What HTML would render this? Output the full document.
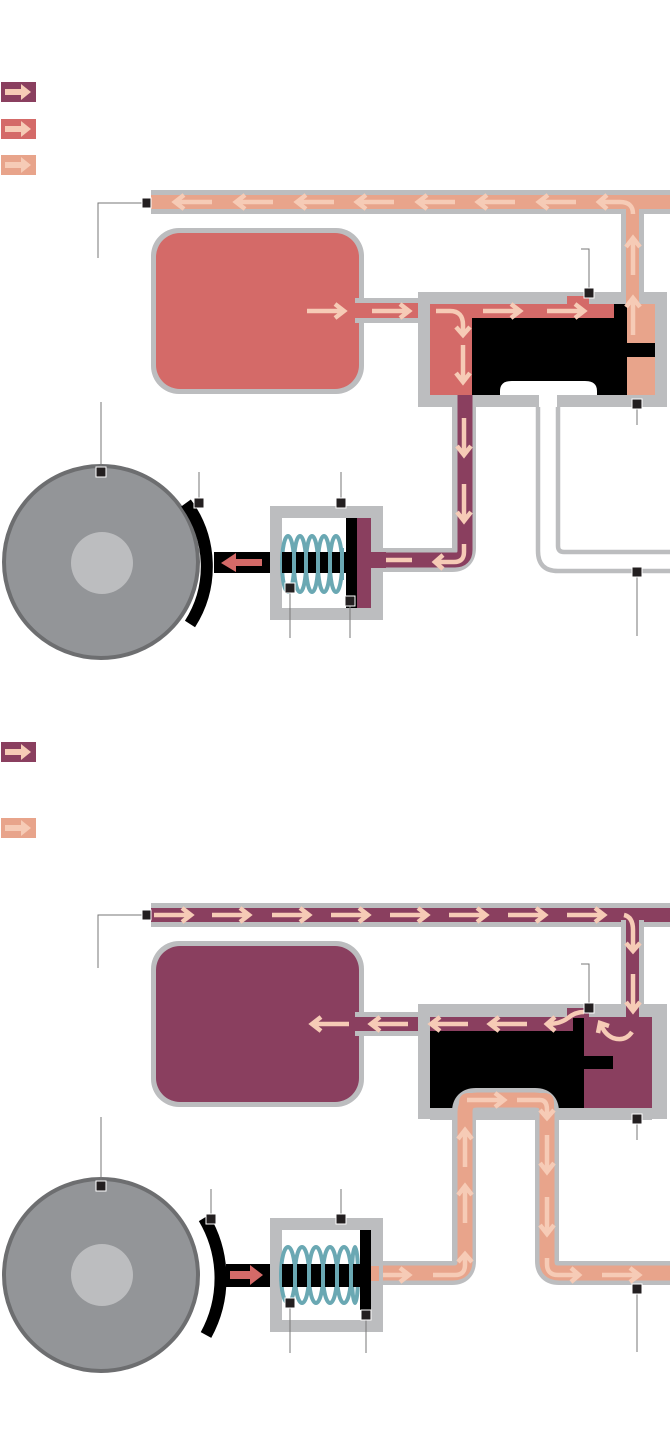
<!DOCTYPE html>
<html><head><meta charset="utf-8"><style>
html,body{margin:0;padding:0;background:#fff;}
svg{display:block;}
</style></head><body>
<svg width="670" height="1436" viewBox="0 0 670 1436" xmlns="http://www.w3.org/2000/svg">
<defs>
<path id="ar" d="M0,0 H36 M28,-7 L37,0 L28,7" fill="none" stroke="#f6cbb6" stroke-width="4.5"/>
<path id="la" d="M4,-3 H20 V-8 L30,0 L20,8 V3 H4 Z" fill="#f6cbb6"/>
</defs>

<rect x="1" y="82" width="35" height="20" fill="#8a3f5f"/><use href="#la" x="1" y="92"/>
<rect x="1" y="119" width="35" height="20" fill="#d46a68"/><use href="#la" x="1" y="129"/>
<rect x="1" y="155" width="35" height="20" fill="#e8a48b"/><use href="#la" x="1" y="165"/>
<rect x="1" y="742" width="35" height="20" fill="#8a3f5f"/><use href="#la" x="1" y="752"/>
<rect x="1" y="818" width="35" height="20" fill="#e8a48b"/><use href="#la" x="1" y="828"/>

<!-- TOP DIAGRAM -->
<rect x="151" y="190" width="519" height="24" fill="#bcbdbf"/>
<rect x="151" y="195" width="519" height="14" fill="#e8a48b"/>
<rect x="621" y="209" width="23" height="90" fill="#bcbdbf"/>
<rect x="626" y="195" width="13" height="110" fill="#e8a48b"/>
<rect x="644" y="214" width="26" height="78" fill="#fff"/>
<rect x="151" y="228" width="213" height="166" rx="28" fill="#bcbdbf"/>
<rect x="156" y="233" width="203" height="156" rx="24" fill="#d46a68"/>
<rect x="355" y="298" width="70" height="25" fill="#bcbdbf"/>
<rect x="355" y="303" width="80" height="15" fill="#d46a68"/>
<rect x="418" y="292" width="249" height="115" fill="#bcbdbf"/>
<rect x="430" y="304" width="225" height="91" fill="#d46a68"/>
<rect x="627" y="304" width="28" height="91" fill="#e8a48b"/>
<rect x="626" y="214" width="13" height="92" fill="#e8a48b"/>
<rect x="472" y="318" width="155" height="77" fill="#000"/>
<rect x="614" y="304" width="13" height="20" fill="#000"/>
<rect x="627" y="343" width="28" height="14" fill="#000"/>
<path d="M500,395 V391 Q500,381 512,381 H585 Q597,381 597,391 V395 Z" fill="#fff"/>
<rect x="567" y="296" width="22" height="9" fill="#d46a68"/>
<path d="M464,395 V548 Q464,560 452,560 H371" fill="none" stroke="#bcbdbf" stroke-width="24"/>
<rect x="455" y="395" width="17" height="13" fill="#bcbdbf"/>
<path d="M465,395 V550 Q465,560 455,560 H365" fill="none" stroke="#8a3f5f" stroke-width="15"/>
<rect x="430" y="395" width="25" height="12" fill="#bcbdbf"/>
<rect x="539" y="395" width="18" height="12" fill="#fff"/>
<path d="M538,407 V551 Q538,571 558,571 H670" fill="none" stroke="#bcbdbf" stroke-width="4.5"/>
<path d="M558,407 V546 Q558,552 564,552 H670" fill="none" stroke="#bcbdbf" stroke-width="4.5"/>
<g>
<use href="#ar" transform="translate(212,202) rotate(180)"/>
<use href="#ar" transform="translate(273,202) rotate(180)"/>
<use href="#ar" transform="translate(334,202) rotate(180)"/>
<use href="#ar" transform="translate(394,202) rotate(180)"/>
<use href="#ar" transform="translate(455,202) rotate(180)"/>
<use href="#ar" transform="translate(515,202) rotate(180)"/>
<use href="#ar" transform="translate(576,202) rotate(180)"/>
<path d="M633,214 Q633,202 620,202 H600 M607,195 L599,202 L607,209" fill="none" stroke="#f6cbb6" stroke-width="4.5"/>
<use href="#ar" transform="translate(633,275) rotate(-90)"/>
<use href="#ar" transform="translate(633,335) rotate(-90)"/>
<use href="#ar" transform="translate(307,311)"/>
<use href="#ar" transform="translate(372,311)"/>
<use href="#ar" transform="translate(483,311)"/>
<use href="#ar" transform="translate(547,311)"/>
<path d="M436,311 H450 Q463,311 463,325 V334 M456,327 L463,335 L470,327" fill="none" stroke="#f6cbb6" stroke-width="4.5"/>
<use href="#ar" transform="translate(463,345) rotate(90)"/>
<use href="#ar" transform="translate(464,418) rotate(90)"/>
<use href="#ar" transform="translate(464,484) rotate(90)"/>
<path d="M464,544 V552 Q464,562 454,562 H436 M443,555 L435,562 L443,569" fill="none" stroke="#f6cbb6" stroke-width="4.5"/>
<use href="#ar" transform="translate(412,560) rotate(180)"/>
</g>
<ellipse cx="101" cy="562" rx="97" ry="96" fill="#939598" stroke="#6d6e70" stroke-width="4"/>
<ellipse cx="102" cy="563" rx="31" ry="31" fill="#bcbdbf"/>
<path d="M186,503 A107,107 0 0 1 190,624" fill="none" stroke="#000" stroke-width="12"/>
<rect x="214" y="552" width="136" height="21" fill="#000"/>
<path d="M262,559 H236 V553 L221,563 L236,572 V566 H262 Z" fill="#d46a68"/>
<rect x="270" y="506" width="113" height="114" fill="#bcbdbf"/>
<rect x="282" y="518" width="89" height="90" fill="#fff"/>
<rect x="357" y="518" width="14" height="90" fill="#8a3f5f"/>
<rect x="346" y="518" width="11" height="90" fill="#000"/>
<rect x="371" y="552" width="15" height="16" fill="#8a3f5f"/>
<g fill="none" stroke="#6aa8b3" stroke-width="4">
<ellipse cx="288" cy="564" rx="6" ry="28"/><ellipse cx="300" cy="564" rx="6" ry="28"/><ellipse cx="312" cy="564" rx="6" ry="28"/><ellipse cx="324" cy="564" rx="6" ry="28"/><ellipse cx="336" cy="564" rx="6" ry="28"/>
</g>
<rect x="282" y="552" width="64" height="21" fill="#000"/>
<g fill="none" stroke="#6aa8b3" stroke-width="4">
<path d="M294,548 V580 M306,548 V580 M318,548 V580 M330,548 V580 M342,548 V580"/>
</g>
<g stroke="#777" stroke-width="1" fill="none">
<path d="M143,203 H98 V258"/>
<path d="M589,292 V249 H581"/>
<path d="M637,405 V425"/>
<path d="M637,572 V636"/>
<path d="M101,472 V402"/>
<path d="M199,503 V472"/>
<path d="M341,503 V472"/>
<path d="M290,588 V638"/>
<path d="M350,601 V638"/>
</g>
<g fill="#231f20" stroke="#fff" stroke-width="1">
<rect x="142" y="198" width="9" height="10"/>
<rect x="584" y="288" width="10" height="10"/>
<rect x="632" y="399" width="10" height="10"/>
<rect x="632" y="567" width="10" height="10"/>
<rect x="96" y="467" width="10" height="10"/>
<rect x="194" y="498" width="10" height="10"/>
<rect x="336" y="498" width="10" height="10"/>
<rect x="285" y="583" width="10" height="10"/>
<rect x="345" y="596" width="10" height="10"/>
</g>

<!-- BOTTOM DIAGRAM -->
<rect x="151" y="903" width="519" height="24" fill="#bcbdbf"/>
<rect x="151" y="908" width="519" height="14" fill="#8a3f5f"/>
<rect x="621" y="920" width="23" height="90" fill="#bcbdbf"/>
<rect x="644" y="927" width="26" height="77" fill="#fff"/>
<rect x="626" y="908" width="13" height="112" fill="#8a3f5f"/>
<rect x="151" y="941" width="213" height="166" rx="28" fill="#bcbdbf"/>
<rect x="156" y="946" width="203" height="156" rx="24" fill="#8a3f5f"/>
<rect x="355" y="1012" width="70" height="24" fill="#bcbdbf"/>
<rect x="355" y="1017" width="80" height="14" fill="#8a3f5f"/>
<rect x="418" y="1004" width="249" height="115" fill="#bcbdbf"/>
<rect x="430" y="1017" width="222" height="91" fill="#8a3f5f"/>
<rect x="626" y="1004" width="13" height="14" fill="#8a3f5f"/>
<rect x="430" y="1031" width="154" height="77" fill="#000"/>
<rect x="573" y="1017" width="11" height="15" fill="#000"/>
<rect x="584" y="1056" width="29" height="13" fill="#000"/>
<rect x="567" y="1008" width="22" height="10" fill="#8a3f5f"/>
<path d="M372,1273 H452 Q464,1273 464,1261 V1112 Q464,1100 476,1100 H535 Q547,1100 547,1112 V1261 Q547,1273 559,1273 H670" fill="none" stroke="#bcbdbf" stroke-width="24"/>
<rect x="430" y="1108" width="222" height="12" fill="#bcbdbf"/>
<path d="M459,1108 V1103 Q459,1093 469,1093 H544 Q554,1093 554,1103 V1108 Z" fill="#e8a48b"/>
<rect x="473" y="1107" width="67" height="13" fill="#bcbdbf"/>
<path d="M366,1273 H453 Q465,1273 465,1261 V1112 Q465,1100 477,1100 H535 Q547,1100 547,1112 V1261 Q547,1273 559,1273 H670" fill="none" stroke="#e8a48b" stroke-width="15"/>
<g>
<use href="#ar" transform="translate(154,915)"/>
<use href="#ar" transform="translate(212,915)"/>
<use href="#ar" transform="translate(272,915)"/>
<use href="#ar" transform="translate(331,915)"/>
<use href="#ar" transform="translate(390,915)"/>
<use href="#ar" transform="translate(449,915)"/>
<use href="#ar" transform="translate(508,915)"/>
<use href="#ar" transform="translate(567,915)"/>
<path d="M624,915 Q633,917 633,930 V950 M626,943 L633,951 L640,943" fill="none" stroke="#f6cbb6" stroke-width="4.5"/>
<use href="#ar" transform="translate(633,974) rotate(90)"/>
<use href="#ar" transform="translate(349,1024) rotate(180)"/>
<use href="#ar" transform="translate(408,1024) rotate(180)"/>
<use href="#ar" transform="translate(468,1024) rotate(180)"/>
<use href="#ar" transform="translate(527,1024) rotate(180)"/>
<path d="M584,1012 Q575,1012 568,1018 Q560,1024 548,1024 M555,1017 L547,1024 L555,1031" fill="none" stroke="#f6cbb6" stroke-width="4.5"/>
<path d="M632,1032 Q625,1042 613,1038 Q604,1034 601,1024 M598,1033 L600,1023 L609,1026" fill="none" stroke="#f6cbb6" stroke-width="4.5"/>
<use href="#ar" transform="translate(372,1275)"/>
<path d="M433,1275 H455 Q465,1275 465,1265 V1255 M458,1262 L465,1254 L472,1262" fill="none" stroke="#f6cbb6" stroke-width="4.5"/>
<use href="#ar" transform="translate(465,1223) rotate(-90)"/>
<use href="#ar" transform="translate(465,1167) rotate(-90)"/>
<use href="#ar" transform="translate(467,1100)"/>
<path d="M517,1100 H540 Q547,1100 547,1110 V1117 M540,1110 L547,1118 L554,1110" fill="none" stroke="#f6cbb6" stroke-width="4.5"/>
<use href="#ar" transform="translate(547,1135) rotate(90)"/>
<use href="#ar" transform="translate(547,1197) rotate(90)"/>
<path d="M547,1258 V1264 Q547,1275 558,1275 H578 M571,1268 L579,1275 L571,1282" fill="none" stroke="#f6cbb6" stroke-width="4.5"/>
<use href="#ar" transform="translate(602,1275)"/>
</g>
<ellipse cx="101" cy="1275" rx="97" ry="96" fill="#939598" stroke="#6d6e70" stroke-width="4"/>
<ellipse cx="102" cy="1275" rx="31" ry="31" fill="#bcbdbf"/>
<path d="M204,1218 A118,118 0 0 1 206,1335" fill="none" stroke="#000" stroke-width="12"/>
<rect x="226" y="1264" width="134" height="23" fill="#000"/>
<path d="M230,1271 H250 V1265 L263,1275 L250,1285 V1279 H230 Z" fill="#d46a68"/>
<rect x="270" y="1218" width="113" height="114" fill="#bcbdbf"/>
<rect x="282" y="1230" width="89" height="90" fill="#fff"/>
<rect x="371" y="1266" width="8" height="15" fill="#e8a48b"/>
<rect x="360" y="1230" width="11" height="80" fill="#000"/>
<g fill="none" stroke="#6aa8b3" stroke-width="4">
<ellipse cx="288" cy="1275" rx="7" ry="28"/><ellipse cx="302" cy="1275" rx="7" ry="28"/><ellipse cx="316" cy="1275" rx="7" ry="28"/><ellipse cx="330" cy="1275" rx="7" ry="28"/><ellipse cx="344" cy="1275" rx="7" ry="28"/><ellipse cx="355" cy="1275" rx="3" ry="28"/>
</g>
<rect x="282" y="1264" width="78" height="23" fill="#000"/>
<g fill="none" stroke="#6aa8b3" stroke-width="4">
<path d="M295,1260 V1292 M309,1260 V1292 M323,1260 V1292 M337,1260 V1292 M351,1260 V1292"/>
</g>
<g stroke="#777" stroke-width="1" fill="none">
<path d="M143,915 H98 V968"/>
<path d="M589,1004 V964 H581"/>
<path d="M637,1118 V1140"/>
<path d="M637,1288 V1352"/>
<path d="M101,1186 V1117"/>
<path d="M211,1218 V1189"/>
<path d="M341,1218 V1189"/>
<path d="M290,1303 V1353"/>
<path d="M366,1315 V1353"/>
</g>
<g fill="#231f20" stroke="#fff" stroke-width="1">
<rect x="142" y="910" width="9" height="10"/>
<rect x="584" y="1003" width="10" height="10"/>
<rect x="632" y="1114" width="10" height="10"/>
<rect x="632" y="1284" width="10" height="10"/>
<rect x="96" y="1181" width="10" height="10"/>
<rect x="206" y="1214" width="10" height="10"/>
<rect x="336" y="1214" width="10" height="10"/>
<rect x="285" y="1298" width="10" height="10"/>
<rect x="361" y="1310" width="10" height="10"/>
</g>
</svg>
</body></html>
